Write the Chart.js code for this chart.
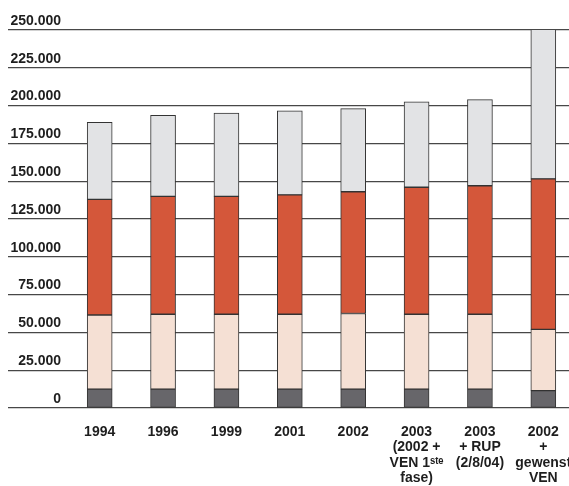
<!DOCTYPE html>
<html>
<head>
<meta charset="utf-8">
<script src="https://cdn.jsdelivr.net/npm/chart.js@4"></script>
<style>
html,body{margin:0;padding:0;background:#fff;overflow:hidden;width:569px;height:486px;}
canvas{display:block;}
</style>
</head>
<body>
<canvas id="c" width="575" height="486"></canvas>
<script>
const categories = [
  ['1994'],
  ['1996'],
  ['1999'],
  ['2001'],
  ['2002'],
  ['2003', '(2002 +', 'VEN 1\u02E2\u1D57\u1D49', 'fase)'],
  ['2003', '+ RUP', '(2/8/04)'],
  ['2002', '+', 'gewenst', 'VEN']
];
const seriesDark  = [12500, 12500, 12500, 12500, 12500, 12500, 12500, 11500];
const seriesPink  = [49000, 49500, 49500, 49500, 50000, 49500, 49500, 40500];
const seriesRed   = [76500, 78000, 78000, 79000, 80500, 84000, 85000, 99500];
const seriesGrey  = [51000, 53500, 55000, 55500, 55000, 56500, 57000, 103500];
const yMin = 0, yMax = 250000, yStep = 25000;

function fmt(v){ return String(v).replace(/\B(?=(\d{3})+(?!\d))/g, '.'); }

const FONT = '"Liberation Sans", Arial, sans-serif';
const border = '#333333';
function ds(data, color){
  return { data, backgroundColor: color, borderColor: border, borderWidth: 1, barThickness: 25, borderSkipped: false };
}

new Chart(document.getElementById('c'), {
  type: 'bar',
  data: {
    labels: categories,
    datasets: [
      ds(seriesDark, '#67666a'),
      ds(seriesPink, '#f5e0d4'),
      ds(seriesRed, '#d4573a'),
      ds(seriesGrey, '#e2e3e5')
    ]
  },
  options: {
    responsive: false,
    animation: false,
    layout: { padding: { left: 8, top: 30, right: 0, bottom: 0 } },
    plugins: { legend: { display: false }, tooltip: { enabled: false } },
    scales: {
      x: {
        stacked: true,
        grid: { display: false },
        border: { display: false },
        ticks: { color: '#1e1e1e', font: { family: FONT, size: 14, weight: 'bold', lineHeight: '15.5px' }, padding: 8, maxRotation: 0, autoSkip: false },
        afterFit: s => { s.height = 78; s.paddingLeft = 0; s.paddingRight = 0; }
      },
      y: {
        stacked: true,
        min: yMin, max: yMax,
        border: { display: false },
        grid: { color: '#474747', lineWidth: 1.2, drawTicks: true, tickLength: 60 },
        ticks: { stepSize: yStep, color: '#1e1e1e', padding: -53, labelOffset: -9,
                 font: { family: FONT, size: 14, weight: 'bold' },
                 callback: v => fmt(v) },
        afterFit: s => { s.width = 60; s.paddingTop = 0; s.paddingBottom = 0; }
      }
    }
  }
});
</script>
</body>
</html>
